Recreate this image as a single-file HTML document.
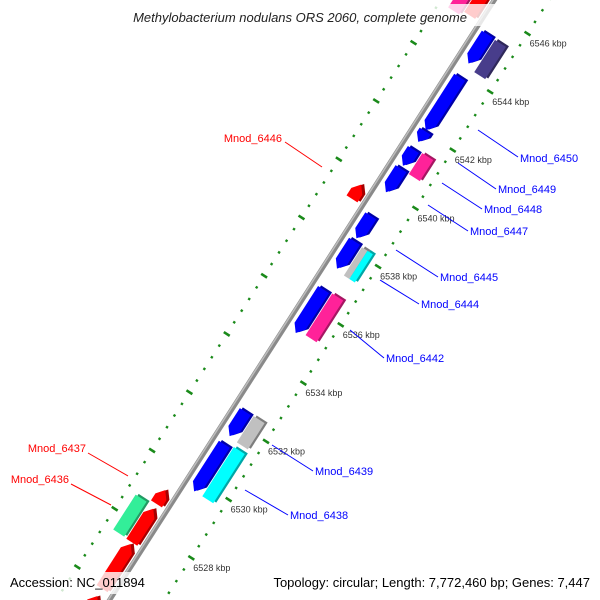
<!DOCTYPE html>
<html><head><meta charset="utf-8">
<style>
html,body{margin:0;padding:0;background:#fff;width:600px;height:600px;overflow:hidden;}
svg{display:block;font-family:"Liberation Sans","DejaVu Sans",sans-serif;overflow:hidden;}
</style></head>
<body>
<svg id="map" width="600" height="600" viewBox="0 0 600 600" xmlns="http://www.w3.org/2000/svg">
<defs><clipPath id="frame"><rect width="600" height="600"/></clipPath></defs>
<g clip-path="url(#frame)">
<rect width="600" height="600" fill="#fff"/>
<g id="rot" transform="translate(302,300) rotate(-57.33)"></g>
<g id="ticklabels"></g>
<g id="labels"></g>
<rect x="100" y="4" width="402" height="22" fill="rgba(255,255,255,0.8)"/>
<text x="300" y="22" text-anchor="middle" font-size="13" font-style="italic" fill="#222">Methylobacterium nodulans ORS 2060, complete genome</text>
<rect x="6" y="572" width="140" height="22" fill="rgba(255,255,255,0.8)"/>
<text x="10" y="587" font-size="13" fill="#000">Accession: NC_011894</text>
<rect x="256" y="572" width="338" height="22" fill="rgba(255,255,255,0.8)"/>
<text x="590" y="587" text-anchor="end" font-size="13" fill="#000">Topology: circular; Length: 7,772,460 bp; Genes: 7,447</text>
</g>
</svg>
<script>
const geneStart = [6529.66,6531.56,6529.67,6531.52,6535.10,6535.20,6537.31,6537.25,6537.25,6538.35,6539.93,6540.84,6540.73,6541.66,6542.06,6544.35,6544.23,6539.24,6528.77,6527.45,6527.47,6525.86,6545.54,6545.40,6524.40];
const geneEnd   = [6531.28,6532.40,6531.36,6532.42,6536.59,6536.63,6538.25,6538.22,6538.22,6539.12,6540.74,6541.40,6541.45,6542.03,6543.88,6545.36,6545.34,6539.73,6529.24,6528.60,6528.67,6527.39,6547.10,6546.40,6525.60];
const geneLane  = [1,1,2,2,1,2,1,2.1,2.2,1,1,1,2,1,1,1,2,-1,-1,-1,-2,-1,-1,-2,-1];
const geneColor = ["#0000ff","#0000ff","#00ffff","#c0c0c0","#0000ff","#ff2299","#0000ff","#c0c0c0","#00ffff","#0000ff","#0000ff","#0000ff","#ff2299","#0000ff","#0000ff","#0000ff","#483d8b","#ff0000","#ff0000","#ff0000","#33ee99","#ff0000","#ff0000","#ff2299","#ff0000"];
const geneArrow = [1,1,0,0,1,0,1,0,0,1,1,1,0,1,1,1,0,1,1,1,0,1,1,0,1];
const tickStart = 6522, tickEnd = 6550;
const tickLabels = [6528,6530,6532,6534,6536,6538,6540,6542,6544,6546];

const NS="http://www.w3.org/2000/svg";
const PX=34.6, ORIGIN=6536, CX=302, CY=300, UX=0.54, UY=-0.842, NX=0.842, NY=0.54;
function xs(k){return (k-ORIGIN)*PX;}
function toScreen(lx,ly){return [CX+lx*UX+ly*NX, CY+lx*UY+ly*NY];}
const laneY={"1":[6,19],"2":[22,35],"2.1":[22,28.5],"2.2":[28.5,35],"-1":[-19,-6],"-2":[-35,-22]};
function shade(hex,f){const n=parseInt(hex.slice(1),16);let r=(n>>16)&255,g=(n>>8)&255,b=n&255;return "rgb("+Math.round(r*f)+","+Math.round(g*f)+","+Math.round(b*f)+")";}
const rot=document.getElementById("rot");
function mk(tag,attrs,parent){const e=document.createElementNS(NS,tag);for(const k in attrs)e.setAttribute(k,attrs[k]);(parent||rot).appendChild(e);return e;}

const bb=mk("line",{x1:-420,y1:0,x2:420,y2:0,stroke:"#8a8a8a","stroke-width":5});


const bb2=mk("line",{x1:-420,y1:-1.2,x2:420,y2:-1.2,stroke:"#bdbdbd","stroke-width":1.5});



for(let i=0;i<=(tickEnd-tickStart)*5;i++){
  const k=tickStart+i*0.4;
  const x=xs(k);
  const major=Math.abs(k-Math.round(k))<1e-6 && Math.round(k)%2===0;
  [46,-45].forEach(function(oy){
    let r;
    if(major){r=mk("rect",{x:x-1.3,y:oy-3.5,width:2.6,height:7,fill:"#1a8a1a"});}
    else{r=mk("rect",{x:x-1.2,y:oy-1.2,width:2.4,height:2.4,fill:"#1a8a1a"});}
    
    
  });
}
const tl=document.getElementById("ticklabels");
tickLabels.forEach(function(k){
  const p=toScreen(xs(k),46);
  const t=mk("text",{x:(p[0]+2).toFixed(1),y:(p[1]+13).toFixed(1),"font-size":9,fill:"#333"},tl);
  t.textContent=k+" kbp";
  
  
});

for(let i=0;i<geneStart.length;i++){
  const a=xs(geneStart[i]), b=xs(geneEnd[i]);
  const ly=laneY[String(geneLane[i])];
  const y0=ly[0], y1=ly[1], ym=(y0+y1)/2;
  const col=geneColor[i];
  let pts;
  const tip=Math.min(8,(b-a)*0.6);
  if(geneArrow[i] && geneLane[i]>0){
    pts=[[a,ym],[a+tip,y0],[b,y0],[b,y1],[a+tip,y1]];
  } else if(geneArrow[i] && geneLane[i]<0){
    pts=[[a,y0],[b-tip,y0],[b,ym],[b-tip,y1],[a,y1]];
  } else {
    pts=[[a,y0],[b,y0],[b,y1],[a,y1]];
  }
  const g=mk("g",{});
  
  
  const side=pts.map(function(p){return (p[0]+2.2)+","+(p[1]+2.2);}).join(" ");
  const s=mk("polygon",{points:side,fill:shade(col,0.65)},g);
  
  
  const f=mk("polygon",{points:pts.map(function(p){return p[0]+","+p[1];}).join(" "),fill:col},g);
  
  
}

const labels=[
 ["Mnod_6450",520,162,"#0000ff",478,130,518,157,"start"],
 ["Mnod_6449",498,193,"#0000ff",458,163,496,189,"start"],
 ["Mnod_6448",484,213,"#0000ff",442,183,482,209,"start"],
 ["Mnod_6447",470,235,"#0000ff",428,205,468,231,"start"],
 ["Mnod_6445",440,281,"#0000ff",396,250,438,277,"start"],
 ["Mnod_6444",421,308,"#0000ff",380,280,419,304,"start"],
 ["Mnod_6442",386,362,"#0000ff",350,330,384,358,"start"],
 ["Mnod_6439",315,475,"#0000ff",272,445,313,471,"start"],
 ["Mnod_6438",290,519,"#0000ff",245,490,288,515,"start"],
 ["Mnod_6446",282,142,"#ff0000",285,142,322,167,"end"],
 ["Mnod_6437",86,452,"#ff0000",88,453,128,476,"end"],
 ["Mnod_6436",69,483,"#ff0000",71,484,111,505,"end"]
];
const lg=document.getElementById("labels");
labels.forEach(function(L){
  const ln=mk("line",{x1:L[4],y1:L[5],x2:L[6],y2:L[7],stroke:L[3],"stroke-width":1},lg);
  
  
  const t=mk("text",{x:L[1],y:L[2],"font-size":11,fill:L[3],"text-anchor":L[8]},lg);
  t.textContent=L[0];
  
  
});
</script>
</body></html>
